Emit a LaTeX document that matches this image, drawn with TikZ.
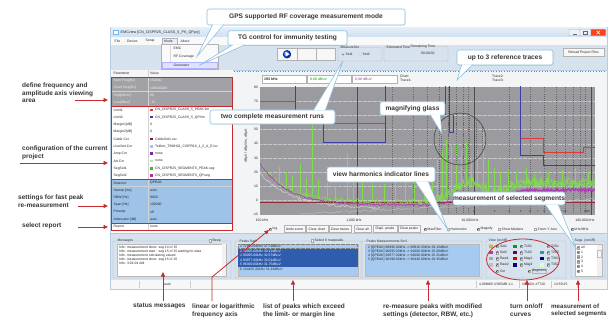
\documentclass[tikz,border=0pt]{standalone}
\usepackage{fontspec}
\setmainfont{Liberation Sans}
\usetikzlibrary{arrows.meta,calc,shadows}

\definecolor{winframe}{HTML}{B7CDE4}
\definecolor{titlebar}{HTML}{CFDFF0}
\definecolor{panelbg}{HTML}{D6E2EE}
\definecolor{chartbg}{HTML}{F3F4F5}
\definecolor{plotbg}{HTML}{9B9B9F}
\definecolor{rowgray}{HTML}{A2A2A6}
\definecolor{rowblue}{HTML}{9DC3E8}
\definecolor{listblue}{HTML}{A7CBF0}
\definecolor{selblue}{HTML}{2E5DAD}
\definecolor{calloutblue}{HTML}{8DC2DF}
\definecolor{arrowred}{HTML}{C62A2F}
\definecolor{limred}{HTML}{DA3B3B}
\definecolor{limblue}{HTML}{3C3FA6}
\definecolor{trgreen}{HTML}{7EDE4A}
\definecolor{trmag}{HTML}{B13CB9}
\definecolor{zeroline}{HTML}{8C2F3C}
\definecolor{cablecol}{HTML}{8B1A1A}
\definecolor{lisncol}{HTML}{9CCBEA}
\definecolor{ampcol}{HTML}{7A2A9A}
\definecolor{attcol}{HTML}{B8E6B0}
\definecolor{seg1col}{HTML}{3CB83C}
\definecolor{seg2col}{HTML}{B0309A}

\newcounter{uinode}

% one row of the parameter table
\newcommand\partrow[5]{% #1 index, #2 fill, #3 text colour, #4 parameter, #5 value
  \fill[#2] (111.5,{77+7.3*#1}) rectangle (232.5,{77+7.3*(#1+1)});
  \draw[gridln] (111.5,{77+7.3*(#1+1)}) -- (232.5,{77+7.3*(#1+1)})
                (148,{77+7.3*#1}) -- (148,{77+7.3*(#1+1)});
  \node[ui,text=#3] (par#1) at (113.5,{77+7.3*(#1+0.5)}) {#4};
  \node[ui,text=#3] (val#1) at (150,{77+7.3*(#1+0.5)}) {#5};}
% a row whose value carries a colour marker
\newcommand\partmrow[4]{% #1 index, #2 marker colour, #3 parameter, #4 value
  \partrow{#1}{white}{black!85}{#3}{}
  \fill[#2] (150,{77+7.3*(#1+0.5)-1.3}) rectangle (152.6,{77+7.3*(#1+0.5)+1.3});
  \node[ui] (mval#1) at (155,{77+7.3*(#1+0.5)}) {#4};}
% check boxes
\newcommand\ckbox[2]{\draw[gray!70,fill=white,line width=0.25pt] ({#1-1.3},{#2-1.3}) rectangle ({#1+1.3},{#2+1.3});}
\newcommand\ckboxon[2]{\ckbox{#1}{#2}\draw[black!85,line width=0.35pt] ({#1-0.8},{#2}) -- ({#1-0.2},{#2+0.8}) -- ({#1+0.9},{#2-0.9});}
% pointer of a speech bubble
\newcommand\calltail[3]{%
  \fill[white] #1 -- (#3) -- #2 -- cycle;
  \draw[calloutblue,line width=0.6pt] #1 -- (#3) -- #2;}

\begin{document}
\begin{tikzpicture}[x=1pt,y=-1pt,
  declare function={
    gb(\t)=202-40*exp(max(-9,(260-\t)/25))-18*exp(max(-9,0-((\t-470)/22)^2))-18/(1+exp(0-min(8,max(-8,(\t-505)/6))));
    mb(\t)=205-42*exp(max(-9,(260-\t)/27))-10*exp(max(-9,0-((\t-470)/20)^2))-15/(1+exp(0-min(8,max(-8,(\t-505)/6))));
  },
  ui/.style={font=\fontsize{3.4}{4}\selectfont, inner sep=0pt, anchor=west, text=black!85,
    /utils/exec={\stepcounter{uinode}}, name=ui\arabic{uinode}},
  lbl/.style={font=\bfseries\fontsize{6.5}{7.8}\selectfont, text=black!78, inner sep=0pt, align=left, anchor=north west},
  callout/.style={draw=calloutblue, fill=white, rounded corners=2.2pt, line width=0.6pt,
    font=\bfseries\fontsize{6.6}{7.5}\selectfont, text=black!78, inner sep=0pt,
    drop shadow={opacity=0.18, shadow xshift=0.7pt, shadow yshift=-0.7pt}},
  redarrow/.style={draw=arrowred, line width=0.8pt, -{Triangle[length=4.5pt,width=4pt]}},
  redbox/.style={draw=arrowred, line width=0.8pt},
  grp/.style={draw=gray!55, line width=0.3pt, rounded corners=0.8pt},
  btn/.style={draw=gray!60, fill=gray!6, line width=0.3pt},
  gridln/.style={draw=gray!35, line width=0.2pt},
  vgrid/.style={draw=black!60, line width=0.3pt, dash pattern=on 1pt off 1.2pt},
]
\useasboundingbox (0,0) rectangle (611,321);
\fill[white] (0,0) rectangle (611,321);

% ---------------- application window ----------------
\fill[winframe] (109.5,27) rectangle (608,290);
\shade[top color=titlebar!55!white, bottom color=titlebar] (111,28) rectangle (606.5,37);
\fill[blue!45!cyan!60] (113,29.8) rectangle (118.5,35.2);
\fill[white] (113.8,31) rectangle (117.7,34.5);
\node[ui,font=\fontsize{3.7}{4}\selectfont] (title) at (120.5,32.5) {EMCview [CN\_CISPR25\_CLASS\_5\_PK\_QP.prj]};
\draw[gray!60, fill=titlebar!40!white, rounded corners=0.8pt, line width=0.3pt] (569,29.3) rectangle (580,35.7);
\draw[gray!60, fill=titlebar!40!white, rounded corners=0.8pt, line width=0.3pt] (580,29.3) rectangle (591,35.7);
\draw[red!50!black!60, fill=red!65!orange!90, rounded corners=0.8pt, line width=0.3pt] (591,29.3) rectangle (605.5,35.7);
\draw[gray!80!black, line width=0.5pt] (572.5,33.8) -- (576.5,33.8);
\draw[gray!80!black, line width=0.4pt] (583.5,31) rectangle (587.5,34.3);
\draw[white, line width=0.6pt] (596.5,30.8) -- (600,34.2) (596.5,34.2) -- (600,30.8);

% menu bar
\fill[gray!5] (111,37) rectangle (606.5,45);
\draw[gray!60, fill=blue!8, line width=0.3pt] (162,37.8) rectangle (177.5,44.2);
\node[ui] (mFile) at (114.5,41) {File};
\node[ui] (mDevice) at (127,41) {Device};
\node[ui] (mSetup) at (145.5,41) {Setup};
\node[ui] (mMode) at (164,41) {Mode};
\node[ui] (mAbout) at (180.5,41) {About};

% tool bar
\fill[panelbg] (111,45) rectangle (606.5,70.5);
\draw[btn] (277,48) rectangle (297,60.5);
\draw[btn] (297,48) rectangle (316,60.5);
\draw[btn] (316,48) rectangle (335,60.5);
\shade[ball color=blue!70!cyan] (287,54.2) circle (4.2);
\fill[white] (285.6,51.9) -- (289.6,54.2) -- (285.6,56.5) -- cycle;
\draw[grp] (338,47.5) rectangle (382,61);
\node[ui, fill=panelbg, inner xsep=0.4pt] (mset) at (340,47.5) {MeasureSet};
\draw[gray!70, fill=white, line width=0.25pt] (343,54.5) circle (1.3);
\fill[black!80] (343,54.5) circle (0.6);
\node[ui] (set1) at (345.5,54.5) {Set1};
\draw[gray!70, fill=white, line width=0.25pt] (360,54.5) circle (1.3);
\node[ui] (set2) at (362.5,54.5) {Set2};
\draw[grp] (384,46.5) rectangle (448,61);
\node[ui, fill=panelbg, inner xsep=0.4pt] (esttime) at (386,47) {Estimated Time};
\node[ui, fill=panelbg, inner xsep=0.4pt] (remtime) at (410,47) {Remaining Time};
\node[ui] (clock) at (421,53) {00:00:00};
\draw[btn] (563,48) rectangle (604,56.5);
\node[ui, anchor=center] (reload) at (583.5,52.2) {Reload Project Files};

% mode menu
\draw[gray!60, fill=gray!4, line width=0.3pt] (161,44.5) rectangle (218,69);
\draw[gray!30, line width=0.3pt] (170,45.5) -- (170,68);
\draw[blue!30, fill=blue!12, line width=0.3pt] (162,62) rectangle (217,68.3);
\node[ui] (miEMC) at (173.5,48.7) {EMC};
\node[ui] (miRF) at (173.5,57) {RF Coverage};
\node[ui] (miGen) at (173.5,65.2) {Generator};

% ---------------- panels ----------------
\fill[white] (111,70.5) rectangle (233,233);
\fill[chartbg] (233,71) rectangle (606.5,233);
\draw[blue!55, dotted, line width=0.7pt] (234,71) -- (606,71);

% parameter table
\fill[gray!8] (111.5,70.5) rectangle (232.5,77);
\draw[gridln] (148,70.5) -- (148,77);
\node[ui] (hPar) at (113.5,73.7) {Parameter};
\node[ui] (hVal) at (150,73.7) {Value};
\begin{scope}
\clip (111.5,70) rectangle (232.5,233);
\partrow{0}{rowgray}{white!88!gray}{Start Freq[Hz]}{150000}
\partrow{1}{rowgray}{white!88!gray}{Chart Stop[Hz]}{108000000}
\partrow{2}{rowgray}{white!88!gray}{High[dBuV]}{80}
\partrow{3}{rowgray}{white!88!gray}{Low[dBuV]}{-10}
\partmrow{4}{limred}{Limit1}{CN\_CISPR25\_CLASS\_5\_PEAK.lim}
\partmrow{5}{limblue}{Limit2}{CN\_CISPR25\_CLASS\_5\_QP.lim}
\partrow{6}{white}{black!85}{Margin1[dB]}{0}
\partrow{7}{white}{black!85}{Margin2[dB]}{0}
\partmrow{8}{cablecol}{Cable Cor}{CableSet1.csc}
\partmrow{9}{lisncol}{Lisn/Ant Cor}{Teklisn\_TBOH01\_CISPR16\_1\_2\_A\_E.isc}
\partmrow{10}{ampcol}{Amp Cor}{none}
\partmrow{11}{attcol}{Att Cor}{none}
\partmrow{12}{seg1col}{SegSet1}{CN\_CISPR25\_SEGMENTS\_PEAK.seg}
\partmrow{13}{seg2col}{SegSet2}{CN\_CISPR25\_SEGMENTS\_QP.seg}
\partrow{14}{rowblue}{black!85}{Detector}{QPEAK}
\partrow{15}{rowblue}{black!85}{Sweep [ms]}{auto}
\partrow{16}{rowblue}{black!85}{RBW [Hz]}{9000}
\partrow{17}{rowblue}{black!85}{Span [Hz]}{100000}
\partrow{18}{rowblue}{black!85}{Preamp}{off}
\partrow{19}{rowblue}{black!85}{Attenuator [dB]}{auto}
\partrow{20}{white}{black!85}{Report}{none}
\end{scope}

% ---------------- chart ----------------
\draw[gray!60, fill=white, line width=0.3pt] (262,75) rectangle (306,83);
\node[ui, font=\bfseries\fontsize{3.6}{4}\selectfont] (fread) at (264,79) {193 kHz};
\draw[gray!60, fill=white, line width=0.3pt] (307,75) rectangle (351,83);
\node[ui, text=green!60!black, font=\fontsize{3.6}{4}\selectfont] (gread) at (310,79) {0,00 dBuV};
\draw[gray!60, fill=white, line width=0.3pt] (352,75) rectangle (397,83);
\node[ui, text=trmag!85!black, font=\fontsize{3.6}{4}\selectfont] (mread) at (355,79) {0,00 dBuV};
\node[ui] (chartlbl) at (400,76.5) {Chart};
\node[ui] (tr1) at (400,80.8) {Trace1:};
\node[ui] (tr2) at (492,76.5) {Trace2:};
\node[ui] (tr3) at (492,80.8) {Trace3:};

\fill[plotbg] (260,87) rectangle (595,214.5);
\foreach \k in {1,...,8}
  \draw[plotbg!55!white, densely dotted, line width=0.25pt] (260,{87+14.17*\k}) -- (595,{87+14.17*\k});
\foreach \f in {2,...,9} {
  \draw[vgrid] ({357+117*log10(\f)},87) -- ({357+117*log10(\f)},214.5);
  \draw[vgrid] ({474+117*log10(\f)},87) -- ({474+117*log10(\f)},214.5);
}
\foreach \sx in {357,474,591}
  \draw[black!70, line width=0.45pt] (\sx,87) -- (\sx,214.5);
\foreach \v/\k in {80/0,70/1,50/3,40/4,30/5,20/6,10/7,0/8,-10/9}
  \node[ui, anchor=east] (ytick\k) at (258,{87+14.17*\k}) {\v};
\node[ui, anchor=center, rotate=90] (yaxis) at (246,146) {dBµV / dBµV/m, dBµA};
\node[ui, anchor=center] (x150k) at (262,220) {150 kHz};
\node[ui, anchor=center] (x1M) at (354,220) {1,000 kHz};
\node[ui, anchor=center] (x10M) at (470,220) {10,000 kHz};
\node[ui, anchor=center] (x100M) at (585,220) {100,000 kHz};

\begin{scope}
\clip (260,87) rectangle (595,214.5);
% limit lines
\draw[limred, line width=0.8pt] (260,101) -- (295,101) (323,123) -- (385,123)
  (520,138) -- (543,138) -- (543,152.5) -- (583,152.5) -- (583,147) -- (596,147);
\draw[limblue, line width=0.8pt] (295,86) -- (295,118) -- (323,118) -- (323,142) -- (385,142) -- (385,86)
  (445,86) -- (445,115) (449,86) -- (449,132) -- (453,132) -- (453,115)
  (520,86) -- (520,155) -- (543,155) -- (543,165) -- (596,165);
\pgfmathsetseed{42}
% reference traces
\draw[gray!25, line width=0.35pt] plot[domain=260:380, samples=110] (\x,{209-36*exp((260-\x)/32)+1.4*rand});
\draw[gray!45, line width=0.35pt] plot[domain=300:595, samples=160] (\x,{214-0.05*(\x-300)+1.2*rand});
\draw[zeroline, line width=0.6pt] (260,202.5) -- (595,202.5);
% measured traces
\draw[trgreen, line width=0.4pt] plot[domain=260:595, samples=520] (\x,{gb(\x)+3*rand});
\draw[trgreen, line width=0.4pt] plot[domain=425:595, samples=320] (\x,{gb(\x)-2+5*rand});
\foreach \sx/\sy in {264/170,271/174,279/167,286/172,292/176,300/164,306/178,312/125,318/180,
    327/183,335/186,347/153,353/178,362/180,372/183,384/184,395/182,405/181,414/178,424/175,
    432/170,437/160,442/150,446/140,451/146,456/135,461/150,466/142,471/158,477/150,
    483/132,488/160,494/168,500/172,508/170,516/172,526/168,534/174,548/172,562/170,575/168,588/172}
  \draw[trgreen, line width=0.3pt] (\sx,{gb(\sx)}) -- (\sx,\sy);
\draw[trmag, line width=0.7pt] plot[domain=260:505, samples=260] (\x,{mb(\x)+1.2*rand});
\draw[trmag, line width=1.4pt] plot[domain=505:595, samples=120] (\x,{mb(\x)+1.3*rand});
% magnifying glass
\begin{scope}
\clip (460,139) circle (26);
\foreach \mx in {441,448,456,463,469,476,482}
  \draw[vgrid] (\mx,105) -- (\mx,170);
\end{scope}
\draw[black!80, line width=0.45pt] (460,139) circle (26);
% harmonic numbers
\foreach \n in {1,...,12,18,19}
  \node[ui, anchor=center, font=\fontsize{2.8}{3}\selectfont] (harm\n) at ({357+117*log10(5*\n)},211.5) {\n};
\end{scope}

% chart tool row
\ckboxon{270}{229}
\node[ui] (cLog) at (272.5,229) {log};
\draw[btn] (284,225.5) rectangle (305,232.5);
\node[ui, anchor=center] (bUndo) at (294.5,229) {Undo zoom};
\draw[btn] (306,225.5) rectangle (328,232.5);
\node[ui, anchor=center] (bClChart) at (317,229) {Clear chart};
\draw[btn] (329,225.5) rectangle (351,232.5);
\node[ui, anchor=center] (bClTraces) at (340,229) {Clear traces};
\draw[btn] (354,225.5) rectangle (371,232.5);
\node[ui, anchor=center] (bClAll) at (362.5,229) {Clear all};
\draw[btn] (373,225.5) rectangle (397,232.5);
\node[ui, anchor=center] (bDispl) at (385,229) {Displ. peaks};
\draw[btn] (398,225.5) rectangle (420,232.5);
\node[ui, anchor=center] (bClPeaks) at (409,229) {Clear peaks};
\ckboxon{425}{229}
\node[ui] (cMax) at (427.5,229) {MaxFilter};
\ckbox{448}{229}
\node[ui] (cHarm) at (450.5,229) {Harmonics};
\ckboxon{478}{229}
\node[ui] (cMag) at (480.5,229) {Magnify};
\ckbox{499}{229}
\node[ui] (cMark) at (501.5,229) {Show Markers};
\ckbox{535}{229}
\node[ui] (cZoom) at (537.5,229) {Zoom Y Axis};
\ckboxon{572}{229}
\node[ui] (cKHz) at (574.5,229) {kHz/MHz};

% ---------------- lower panel ----------------
\fill[panelbg] (111,233) rectangle (606.5,280);
\draw[gray!45, line width=0.3pt] (111,233) -- (606.5,233);
% messages
\draw[grp] (113,241) rectangle (231,278);
\node[ui, fill=panelbg, inner xsep=0.4pt] (msgttl) at (117,241) {Messages};
\ckbox{210}{240.5}
\node[ui, fill=panelbg] (beep) at (212.5,240.5) {Beep};
\fill[white] (117,244) rectangle (226,276);
\draw[gray!55, line width=0.25pt] (117,244) rectangle (226,276);
\fill[gray!10] (221.5,244.3) rectangle (225.7,275.7);
\begin{scope}
\clip (118,244) rectangle (221,276);
\foreach \m [count=\r from 0] in {Info: measurement done:  seg 14 of 15,
    Info: measurement start :  seg 15 of 15 waiting for data,
    Info: measurement calculating values',
    Info: measurement done:  seg 15 of 15,
    Info: 3:01:04 AM}
  \node[ui] (msg\r) at (119,{247.8+3.9*\r}) {\m};
\end{scope}
% peaks of set 1
\draw[grp] (235,241) rectangle (361,278);
\node[ui, fill=panelbg, inner xsep=0.4pt] (pkttl) at (239,241) {Peaks Set1};
\ckbox{312}{240.5}
\node[ui, fill=panelbg] (sel6) at (314.5,240.5) {Select 6 maxpeaks};
\fill[listblue] (238,244) rectangle (358,276);
\draw[gray!55, line width=0.25pt] (238,244) rectangle (358,276);
\fill[selblue] (238.3,248.8) rectangle (357.7,266.8);
\draw[black!50, densely dotted, line width=0.25pt] (238.6,244.4) rectangle (357.4,248.6);
\foreach \p [count=\r from 0] in {1  71990.00kHz 37.79dBuV, 2  88995.00kHz 33.12dBuV,
    3  90095.00kHz 32.57dBuV, 4  93977.00kHz 32.01dBuV, 5  96399.00kHz 31.75dBuV,
    6  104455.00kHz 31.46dBuV} {
  \pgfmathsetmacro\pc{(\r>0 && \r<5) ? "white" : "black!85"}
  \node[ui, text=\pc] (pk\r) at (240,{246.6+4.5*\r}) {\p};
}
% re-measured peaks
\draw[grp] (362,241) rectangle (482,278);
\node[ui, fill=panelbg, inner xsep=0.4pt] (pmttl) at (366,241) {Peaks Measurements Set1};
\fill[listblue] (365,244) rectangle (479,276);
\draw[gray!55, line width=0.25pt] (365,244) rectangle (479,276);
\foreach \p [count=\r from 0] in {2 [QPEAK] 88995.00kHz -> 88916.33kHz 29.13dBuV,
    3 [QPEAK] 90095.00kHz -> 91000.00kHz 25.69dBuV,
    4 [QPEAK] 93977.00kHz -> 94000.00kHz 25.31dBuV,
    5 [QPEAK] 96399.00kHz -> 96449.00kHz 29.35dBuV}
  \node[ui] (pm\r) at (368,{247.2+4.3*\r}) {\p};
% curve visibility
\draw[grp] (486,241) rectangle (566,278);
\node[ui, fill=panelbg, inner xsep=0.4pt] (viewttl) at (488,241) {View [on/off]};
\foreach \nm/\cl [count=\r from 0] in {Set1/trgreen, Set2/trmag, Raw1/gray!70, Raw2/gray!50} {
  \fill[\cl] (489.2,{246.2+6.2*\r-1.7}) rectangle (492.6,{246.2+6.2*\r+1.7});
  \ckboxon{497}{246.2+6.2*\r}
  \node[ui] (vA\r) at (499.8,{246.2+6.2*\r}) {\nm};
}
\fill[orange!80] (489.2,244.5) -- (492.6,244.5) -- (489.2,247.9) -- cycle;
\foreach \nm/\cl [count=\r from 0] in {T1S1/green!65!black, T1S2/violet!80!black, Mag1/red!85!black, Mag2/blue!50!black} {
  \fill[\cl] (513.2,{246.2+6.2*\r-1.7}) rectangle (516.6,{246.2+6.2*\r+1.7});
  \ckboxon{521}{246.2+6.2*\r}
  \node[ui] (vB\r) at (523.8,{246.2+6.2*\r}) {\nm};
}
\foreach \nm/\cl [count=\r from 0] in {T2S1/cyan!25, T2S2/teal!80, T3S1/blue!55!black, T3S2/green!15} {
  \fill[\cl] (540.2,{246.2+6.2*\r-1.7}) rectangle (543.6,{246.2+6.2*\r+1.7});
  \ckboxon{548}{246.2+6.2*\r}
  \node[ui] (vC\r) at (550.8,{246.2+6.2*\r}) {\nm};
}
\ckboxon{497}{271}
\node[ui] (vCor) at (499.8,271) {Cor};
\ckboxon{529}{271}
\node[ui, draw=gray!60, line width=0.25pt, inner sep=0.5pt] (vSeg) at (531.5,271) {Segment};
% segments
\draw[grp] (571,241) rectangle (605,278);
\node[ui, fill=panelbg, inner xsep=0.4pt] (segttl) at (574,241) {Segs. [on/off]};
\fill[white] (575,244.5) rectangle (602,276);
\draw[gray!55, line width=0.25pt] (575,244.5) rectangle (602,276);
\fill[gray!12] (597,245) rectangle (601.6,275.6);
\draw[gray!50, fill=gray!5, line width=0.2pt] (597.4,250) rectangle (601.2,257);
\foreach \s [count=\r from 0] in {all,1,2,3,4,5} {
  \ckboxon{578.3}{247.5+4.7*\r}
  \node[ui] (seg\r) at (581,{247.5+4.7*\r}) {\s};
}

% status bar
\fill[gray!6] (111,280) rectangle (606.5,288.5);
\draw[gray!40, line width=0.3pt] (139,281) -- (139,288) (190,281) -- (190,288) (476,281) -- (476,288)
  (519,281) -- (519,288) (551,281) -- (551,288) (577,281) -- (577,288);
\node[ui] (stAuto) at (164,284.5) {auto};
\node[ui] (stMem) at (479,284.5) {4,096MB  3,585MB  1,1};
\node[ui] (stVer) at (522,284.5) {V03,02c  \#7720};
\node[ui] (stTime) at (554,284.5) {13:59:25};

% ---------------- annotations ----------------
\draw[redbox] (111.5,77) rectangle (232.5,106.2);
\draw[redbox] (111.5,106.2) rectangle (232.5,179.2);
\draw[redbox] (111.5,179.2) rectangle (232.5,223);
\draw[redbox] (111.5,223) rectangle (232.5,230.3);
\draw[arrowred, line width=0.8pt] (523,259.5) ellipse [x radius=36.5, y radius=20.5];

% speech bubbles
\node[callout, minimum width=198pt, minimum height=16pt] (gps) at (306,17) {GPS supported RF coverage measurement mode};
\node[callout, minimum width=119pt, minimum height=14.5pt] (tg) at (287.5,38) {TG control for immunity testing};
\node[callout, minimum width=96pt, minimum height=15pt] (refs) at (505,57.5) {up to 3 reference traces};
\node[callout, minimum width=65pt, minimum height=13.5pt] (magn) at (412.5,108.5) {magnifying glass};
\node[callout, minimum width=125pt, minimum height=14pt] (runs) at (272.5,117) {two complete measurement runs};
\node[callout, minimum width=108pt, minimum height=15pt] (harmc) at (381,174.5) {view harmonics indicator lines};
\node[callout, minimum width=112pt, minimum height=13pt] (segc) at (509,198.5) {measurement of selected segments};
\coordinate (gpsTip) at (197,56.5);
\coordinate (tgTip) at (199,65.5);
\coordinate (refsTip) at (457,80);
\coordinate (magnTip) at (442,134);
\coordinate (runsTip) at (343,61);
\coordinate (harmTip) at (448,230);
\coordinate (segTip) at (576,248);
\calltail{([xshift=6pt,yshift=0.7pt]gps.south west)}{([xshift=17pt,yshift=0.7pt]gps.south west)}{gpsTip}
\calltail{([xshift=5pt,yshift=0.7pt]tg.south west)}{([xshift=17pt,yshift=0.7pt]tg.south west)}{tgTip}
\calltail{([xshift=5pt,yshift=0.7pt]refs.south west)}{([xshift=16pt,yshift=0.7pt]refs.south west)}{refsTip}
\calltail{([xshift=-15pt,yshift=0.7pt]magn.south east)}{([xshift=-5pt,yshift=0.7pt]magn.south east)}{magnTip}
\calltail{([xshift=-22pt,yshift=-0.7pt]runs.north east)}{([xshift=-10pt,yshift=-0.7pt]runs.north east)}{runsTip}
\calltail{([xshift=-20pt,yshift=0.7pt]harmc.south east)}{([xshift=-7pt,yshift=0.7pt]harmc.south east)}{harmTip}
\calltail{([xshift=-20pt,yshift=0.7pt]segc.south east)}{([xshift=-7pt,yshift=0.7pt]segc.south east)}{segTip}

% explanations on the left
\node[lbl] (ldef) at (22,82.3) {define frequency and\\amplitude axis viewing\\area};
\node[lbl] (lconf) at (22,145.3) {configuration of the current\\project};
\node[lbl] (lset) at (18,194.3) {settings for fast peak\\re-measurement};
\node[lbl] (lrep) at (22,222.3) {select report};
\coordinate (defFrom) at (75,100);   \coordinate (defTip) at (108,100);
\coordinate (confFrom) at (20,163);  \coordinate (confTip) at (108,163);
\coordinate (setFrom) at (78,206);   \coordinate (setTip) at (108,206);
\coordinate (repFrom) at (78,227);   \coordinate (repTip) at (108,227);
\draw[redarrow] (defFrom) -- (defTip);
\draw[redarrow] (confFrom) -- (confTip);
\draw[redarrow] (setFrom) -- (setTip);
\draw[redarrow] (repFrom) -- (repTip);

% explanations below
\node[lbl] (lstat) at (133,303.5) {status messages};
\node[lbl] (llog) at (192,303.5) {linear or logarithmic\\frequency axis};
\node[lbl] (lpeaks) at (263,303.5) {list of peaks which exceed\\the limit- or margin line};
\node[lbl] (lremeas) at (383,303.5) {re-measure peaks with modified\\settings (detector, RBW, etc.)};
\node[lbl] (lcurves) at (510,303.5) {turn on/off\\curves};
\node[lbl, font=\bfseries\fontsize{6.2}{7.8}\selectfont] (lsegs) at (551,303.5) {measurement of\\selected segments};
\coordinate (statFrom) at (163,301);   \coordinate (statTip) at (163,272);
\coordinate (logFrom) at (212,301);    \coordinate (logBend) at (212,277);  \coordinate (logTip) at (269,230);
\coordinate (peaksFrom) at (293,301);  \coordinate (peaksTip) at (293,280);
\coordinate (remFrom) at (428,301);    \coordinate (remTip) at (428,280);
\coordinate (curvFrom) at (527,301);   \coordinate (curvTip) at (527,280);
\coordinate (segsFrom) at (578,301);   \coordinate (segsTip) at (578,280);
\draw[redarrow] (statFrom) -- (statTip);
\draw[redarrow] (logFrom) -- (logBend) -- (logTip);
\draw[redarrow] (peaksFrom) -- (peaksTip);
\draw[redarrow] (remFrom) -- (remTip);
\draw[redarrow] (curvFrom) -- (curvTip);
\draw[redarrow] (segsFrom) -- (segsTip);
\end{tikzpicture}
\end{document}
